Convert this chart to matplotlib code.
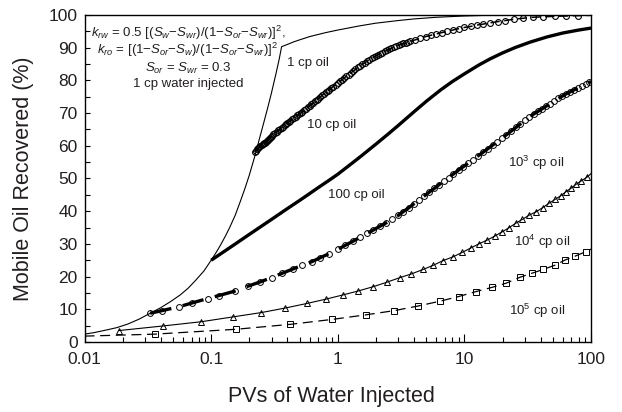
"""
Mobile oil recovered vs PVs of water injected, for several oil viscosities.
"""

import matplotlib

matplotlib.use("Agg")
import matplotlib.pyplot as plt
from matplotlib.ticker import FixedLocator, FixedFormatter, LogLocator, MultipleLocator

# 1 cp oil (thin solid)
pv_1cp = [0.01, 0.012, 0.015, 0.018, 0.022, 0.027, 0.033, 0.04, 0.048, 0.057, 0.066,
          0.076, 0.088, 0.1, 0.11, 0.12, 0.13, 0.14, 0.155, 0.17, 0.185, 0.2, 0.22, 0.24,
          0.26, 0.28, 0.3, 0.327, 0.345, 0.36, 0.4, 0.45, 0.5, 0.6, 0.8, 1.0, 1.5, 2.0,
          3.0, 4.0, 6.0, 10.0, 15.0, 30.0, 100.0]
rec_1cp = [2.4, 2.9, 3.7, 4.4, 5.5, 7.0, 8.8, 10.5, 12.4, 14.4, 16.5, 19.0, 21.8, 25.0,
           27.5, 30.0, 32.5, 35.0, 38.8, 43.0, 47.0, 51.0, 56.5, 62.0, 67.0, 71.7, 76.3,
           82.5, 86.6, 90.3, 91.0, 91.8, 92.4, 93.4, 94.6, 95.4, 96.7, 97.5, 98.3, 98.8,
           99.3, 99.7, 99.9, 100.0, 100.0]

# 10 cp oil (circles, last point is line end only)
pv_10cp = [0.22, 0.225, 0.23, 0.235, 0.24, 0.245, 0.25, 0.255, 0.26, 0.265, 0.27, 0.275,
           0.28, 0.285, 0.29, 0.295, 0.30, 0.31, 0.32, 0.33, 0.34, 0.35, 0.36, 0.37, 0.38,
           0.39, 0.40, 0.41, 0.42, 0.435, 0.45, 0.465, 0.48, 0.495, 0.51, 0.525, 0.54,
           0.56, 0.58, 0.60, 0.62, 0.64, 0.66, 0.68, 0.70, 0.725, 0.75, 0.775, 0.80, 0.83,
           0.86, 0.89, 0.92, 0.96, 1.0, 1.04, 1.08, 1.12, 1.17, 1.22, 1.27, 1.32, 1.38,
           1.44, 1.5, 1.56, 1.63, 1.7, 1.77, 1.85, 1.92, 2.0, 2.08, 2.16, 2.25, 2.35, 2.45,
           2.55, 2.65, 2.77, 2.9, 3.02, 3.15, 3.3, 3.45, 3.6, 3.75, 4.1, 4.5, 4.95, 5.45,
           6.0, 6.6, 7.3, 8.1, 9.0, 10.0, 11.2, 12.5, 14.0, 16.0, 18.5, 21.0, 24.5, 29.0,
           34.5, 42.0, 52.0, 64.0, 79.0, 100.0]
rec_10cp = [58.2, 58.5, 58.9, 59.2, 59.5, 59.9, 60.2, 60.5, 60.8, 61.0, 61.3, 61.6, 61.9,
            62.2, 62.4, 62.7, 63.0, 63.5, 63.9, 64.3, 64.7, 65.1, 65.5, 65.9, 66.3, 66.7,
            67.0, 67.3, 67.6, 68.1, 68.5, 68.9, 69.3, 69.7, 70.0, 70.4, 70.8, 71.3, 71.8,
            72.3, 72.7, 73.2, 73.6, 74.0, 74.4, 74.9, 75.4, 75.9, 76.3, 76.8, 77.2, 77.7,
            78.1, 78.7, 79.2, 79.7, 80.2, 80.7, 81.3, 81.8, 82.3, 82.8, 83.4, 84.0, 84.5,
            84.9, 85.4, 85.9, 86.3, 86.7, 87.1, 87.5, 87.9, 88.2, 88.5, 88.9, 89.2, 89.5,
            89.8, 90.2, 90.5, 90.8, 91.0, 91.3, 91.5, 91.8, 92.0, 92.4, 92.9, 93.4, 93.8,
            94.2, 94.6, 95.0, 95.4, 95.8, 96.2, 96.5, 96.9, 97.2, 97.6, 98.0, 98.3, 98.7,
            99.0, 99.3, 99.45, 99.6, 99.7, 99.8, 99.9]

# 100 cp oil (thick solid)
pv_100cp = [0.1, 0.15, 0.2, 0.3, 0.4, 0.5, 0.6, 0.7, 0.85, 1.0, 1.25, 1.5, 2.0, 2.5, 3.0,
            4.0, 5.0, 6.5, 8.0, 10.0, 13.0, 16.0, 20.0, 25.0, 33.0, 45.0, 60.0, 80.0, 100.0]
rec_100cp = [25.0, 29.6, 32.9, 37.5, 40.8, 43.3, 45.4, 47.2, 49.4, 51.3, 54.2, 56.6, 60.5,
             63.6, 66.2, 70.4, 73.6, 77.1, 79.6, 82.0, 84.7, 86.6, 88.4, 90.0, 91.7, 93.3,
             94.5, 95.4, 96.0]

# 10^3 cp oil (circles on thick dashes, last point is line end only)
pv_1e3 = [0.033, 0.041, 0.056, 0.07, 0.094, 0.115, 0.155, 0.196, 0.245, 0.3, 0.363, 0.44,
          0.52, 0.627, 0.73, 0.85, 1.0, 1.15, 1.33, 1.5, 1.7, 1.9, 2.15, 2.4, 2.7, 3.0, 3.3,
          3.65, 4.0, 4.4, 4.8, 5.3, 5.8, 6.3, 6.9, 7.5, 8.2, 9.0, 9.8, 10.7, 11.7, 12.8,
          14.0, 15.3, 16.7, 18.2, 19.8, 21.5, 23.4, 25.5, 27.7, 30.0, 32.5, 35.2, 38.0,
          41.0, 44.2, 47.6, 51.3, 55.2, 59.4, 63.8, 68.5, 73.5, 78.8, 84.5, 90.5, 96.8, 100.0]
rec_1e3 = [8.8, 9.6, 10.8, 11.9, 13.3, 14.2, 15.6, 17.1, 18.4, 19.7, 21.0, 22.3, 23.4, 24.6,
           25.8, 27.0, 28.3, 29.6, 30.9, 32.0, 33.2, 34.2, 35.4, 36.4, 37.5, 38.7, 39.9,
           41.1, 42.3, 43.5, 44.6, 45.9, 47.0, 48.1, 49.2, 50.3, 51.4, 52.6, 53.6, 54.7,
           55.8, 56.9, 58.0, 59.1, 60.2, 61.2, 62.3, 63.4, 64.5, 65.6, 66.7, 67.8, 68.8,
           69.7, 70.5, 71.3, 72.1, 72.9, 73.7, 74.5, 75.2, 75.9, 76.5, 77.1, 77.7, 78.3,
           78.9, 79.4, 79.6]

# 10^4 cp oil (triangles, thin solid, last point is line end only)
pv_1e4 = [0.0187, 0.0416, 0.0836, 0.15, 0.249, 0.386, 0.573, 0.804, 1.10, 1.45, 1.9, 2.45,
          3.1, 3.8, 4.73, 5.7, 6.8, 8.2, 9.6, 11.3, 13.0, 15.2, 17.4, 19.9, 22.4, 25.4,
          28.7, 32.5, 36.8, 41.5, 46.5, 52.0, 57.5, 63.0, 69.4, 76.0, 84.0, 93.0, 100.0]
rec_1e4 = [3.5, 4.9, 6.2, 7.7, 9.0, 10.4, 11.8, 13.1, 14.4, 15.6, 16.9, 18.3, 19.7, 20.8,
           22.2, 23.5, 24.9, 26.1, 27.4, 28.8, 30.0, 31.2, 32.4, 33.7, 34.9, 36.3, 37.5,
           38.8, 39.8, 41.1, 42.4, 43.6, 44.7, 45.9, 47.0, 48.2, 49.3, 50.4, 51.5]

# 10^5 cp oil (squares, thin dashed, first and last points are line ends only)
pv_1e5 = [0.01, 0.0357, 0.158, 0.422, 0.90, 1.66, 2.8, 4.3, 6.45, 9.0, 12.3, 16.5, 21.4,
          27.5, 34.0, 42.0, 52.0, 62.6, 75.4, 90.5, 100.0]
rec_1e5 = [1.8, 2.4, 3.9, 5.4, 6.9, 8.3, 9.6, 11.0, 12.5, 13.9, 15.4, 16.7, 18.0, 19.8,
           21.0, 22.2, 23.5, 25.1, 26.3, 27.6, 28.4]

x_ticks = [0.01, 0.1, 1, 10, 100]
x_tick_labels = ["0.01", "0.1", "1", "10", "100"]

note_lines = [
    r"$k_{rw}$ = 0.5 [($S_w$−$S_{wr}$)/(1−$S_{or}$−$S_{wr}$)]$^2$,",
    r"$k_{ro}$ = [(1−$S_{or}$−$S_w$)/(1−$S_{or}$−$S_{wr}$)]$^2$",
    r"$S_{or}$ = $S_{wr}$ = 0.3",
    "1 cp water injected",
]
curve_labels = [
    ("1 cp oil", 0.441, 0.853),
    ("10 cp oil", 0.487, 0.664),
    ("100 cp oil", 0.536, 0.450),
    (r"10$^3$ cp oil", 0.891, 0.547),
    (r"10$^4$ cp oil", 0.903, 0.306),
    (r"10$^5$ cp oil", 0.893, 0.095),
]

TEXT = "#231f20"

plt.rcParams["font.family"] = ["Liberation Sans", "DejaVu Sans"]
plt.rcParams["mathtext.fontset"] = "custom"
plt.rcParams["mathtext.rm"] = "Liberation Sans"
plt.rcParams["mathtext.it"] = "Liberation Sans:italic"
plt.rcParams["mathtext.bf"] = "Liberation Sans:bold"

fig = plt.figure(figsize=(6.22, 4.12), dpi=100)
ax = fig.add_axes([0.1359, 0.1699, 0.8143, 0.7937])

ax.plot(pv_1cp, rec_1cp, color="black", lw=0.8)

ax.plot(pv_10cp, rec_10cp, color="black", lw=1.1, ls=(0, (6, 3)),
        marker="o", ms=4.2, mfc="none", mec="black", mew=0.8,
        markevery=slice(0, len(pv_10cp) - 1))

ax.plot(pv_100cp, rec_100cp, color="black", lw=2.4, solid_capstyle="butt")

ax.plot(pv_1e3, rec_1e3, color="black", lw=2.4, ls=(0, (6.5, 3.5)), dash_capstyle="butt",
        marker="o", ms=4.2, mfc="none", mec="black", mew=0.7,
        markevery=slice(0, len(pv_1e3) - 1))

ax.plot(pv_1e4, rec_1e4, color="black", lw=0.8,
        marker="^", ms=5, mfc="none", mec="black", mew=0.7,
        markevery=slice(0, len(pv_1e4) - 1))

ax.plot(pv_1e5, rec_1e5, color="black", lw=0.9, ls=(0, (8, 4.5)),
        marker="s", ms=4.2, mfc="none", mec="black", mew=0.7,
        markevery=slice(1, len(pv_1e5) - 1))

ax.set_xscale("log")
ax.set_xlim(0.01, 100)
ax.set_ylim(0, 100)

ax.xaxis.set_major_locator(FixedLocator(x_ticks))
ax.xaxis.set_major_formatter(FixedFormatter(x_tick_labels))
ax.xaxis.set_minor_locator(LogLocator(base=10, subs=range(2, 10)))
ax.yaxis.set_major_locator(MultipleLocator(10))
ax.yaxis.set_minor_locator(MultipleLocator(5))

ax.tick_params(axis="both", which="both", direction="in", top=False, right=False,
               width=0.8, colors="black", labelcolor=TEXT, labelsize=12.5)
ax.tick_params(axis="x", which="major", length=6, pad=7.5)
ax.tick_params(axis="x", which="minor", length=3.5)
ax.tick_params(axis="y", which="both", length=3.5, pad=5)

for spine in ax.spines.values():
    spine.set_linewidth(1.0)

ax.set_xlabel("PVs of Water Injected", fontsize=15.5, color=TEXT)
ax.set_ylabel("Mobile Oil Recovered (%)", fontsize=15.5, color=TEXT)
ax.xaxis.set_label_coords(0.487, -0.135)
ax.yaxis.set_label_coords(-0.10, 0.5)

note_y = [0.945, 0.893, 0.838, 0.789]
for line, y in zip(note_lines, note_y):
    ax.text(0.204, y, line, transform=ax.transAxes, ha="center", va="center",
            fontsize=9.5, color=TEXT)

for label, x, y in curve_labels:
    ax.text(x, y, label, transform=ax.transAxes, ha="center", va="center",
            fontsize=9.5, color=TEXT)

fig.savefig("out.png", dpi=100)
plt.close(fig)
